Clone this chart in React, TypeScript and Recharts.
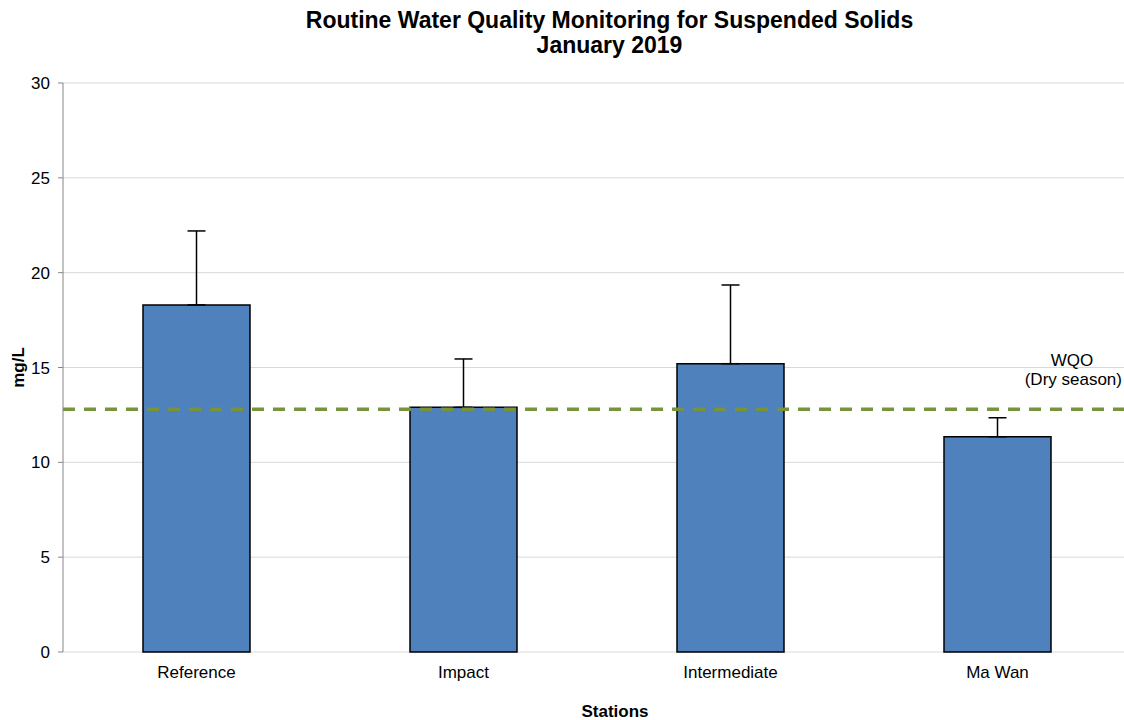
import React from "react";
import {
  BarChart,
  Bar,
  XAxis,
  YAxis,
  CartesianGrid,
  ErrorBar,
  ReferenceLine,
} from "recharts";

const stations = ["Reference", "Impact", "Intermediate", "Ma Wan"];
const meanSS = [18.3, 12.9, 15.2, 11.35];
const upperError = [3.9, 2.55, 4.15, 1.0];
const yTicks = [0, 5, 10, 15, 20, 25, 30];
const wqoDry = 12.8;

const data = stations.map((s, i) => ({
  station: s,
  value: meanSS[i],
  err: [0, upperError[i]],
}));

const FONT = "'Liberation Sans', Arial, sans-serif";

function WqoLabel(props: any) {
  const vb = props.viewBox || {};
  return (
    <g fontFamily={FONT} fontSize={17} fill="#000">
      <text x={1072} y={vb.y - 43} textAnchor="middle">
        WQO
      </text>
      <text x={1122} y={vb.y - 24} textAnchor="end">
        (Dry season)
      </text>
    </g>
  );
}

function YLabel(props: any) {
  const vb = props.viewBox || {};
  const cy = vb.y + vb.height / 2;
  return (
    <text
      x={24}
      y={cy}
      transform={`rotate(-90 24 ${cy})`}
      textAnchor="middle"
      fontFamily={FONT}
      fontSize={17}
      fontWeight="bold"
      fill="#000"
    >
      mg/L
    </text>
  );
}

function XLabel() {
  return (
    <text
      x={615}
      y={717}
      textAnchor="middle"
      fontFamily={FONT}
      fontSize={17}
      fontWeight="bold"
      fill="#000"
    >
      Stations
    </text>
  );
}

export default function App() {
  return (
    <div
      style={{
        position: "absolute",
        left: 0,
        top: 0,
        width: 1124,
        height: 720,
        overflow: "hidden",
        background: "#fff",
        fontFamily: FONT,
      }}
    >
      <div
        style={{
          position: "absolute",
          left: 0,
          width: 1219,
          top: 8,
          textAlign: "center",
          fontWeight: "bold",
          fontSize: 23,
          lineHeight: "25px",
          color: "#000",
        }}
      >
        Routine Water Quality Monitoring for Suspended Solids
        <br />
        January 2019
      </div>
      <BarChart
        width={1131}
        height={720}
        data={data}
        margin={{ top: 83, right: 0, left: 0, bottom: 0 }}
      >
        <CartesianGrid vertical={false} stroke="#d9d9d9" />
        <XAxis
          xAxisId="edges"
          type="number"
          domain={[0, 4]}
          ticks={[0, 1, 2, 3, 4]}
          tick={false}
          height={0}
          axisLine={{ stroke: "#868686" }}
          tickLine={{ stroke: "#868686" }}
          tickSize={6}
        />
        <XAxis
          dataKey="station"
          height={68}
          axisLine={false}
          tickLine={false}
          tick={{ fill: "#000", fontSize: 17, fontFamily: FONT }}
          tickMargin={8}
          label={<XLabel />}
        />
        <YAxis
          domain={[0, 30]}
          ticks={yTicks}
          width={63}
          axisLine={{ stroke: "#868686" }}
          tickLine={{ stroke: "#868686" }}
          tickSize={5}
          tickMargin={8}
          tick={{ fill: "#000", fontSize: 17, fontFamily: FONT }}
          label={<YLabel />}
        />
        <Bar
          dataKey="value"
          fill="#4f81bd"
          stroke="#000"
          strokeWidth={1.5}
          barSize={107}
          isAnimationActive={false}
        >
          <ErrorBar
            dataKey="err"
            direction="y"
            width={9}
            stroke="#000"
            strokeWidth={1.5}
            isAnimationActive={false}
          />
        </Bar>
        <ReferenceLine
          y={wqoDry}
          stroke="#77933c"
          strokeWidth={3.5}
          strokeDasharray="12 9"
          label={<WqoLabel />}
        />
      </BarChart>
    </div>
  );
}
